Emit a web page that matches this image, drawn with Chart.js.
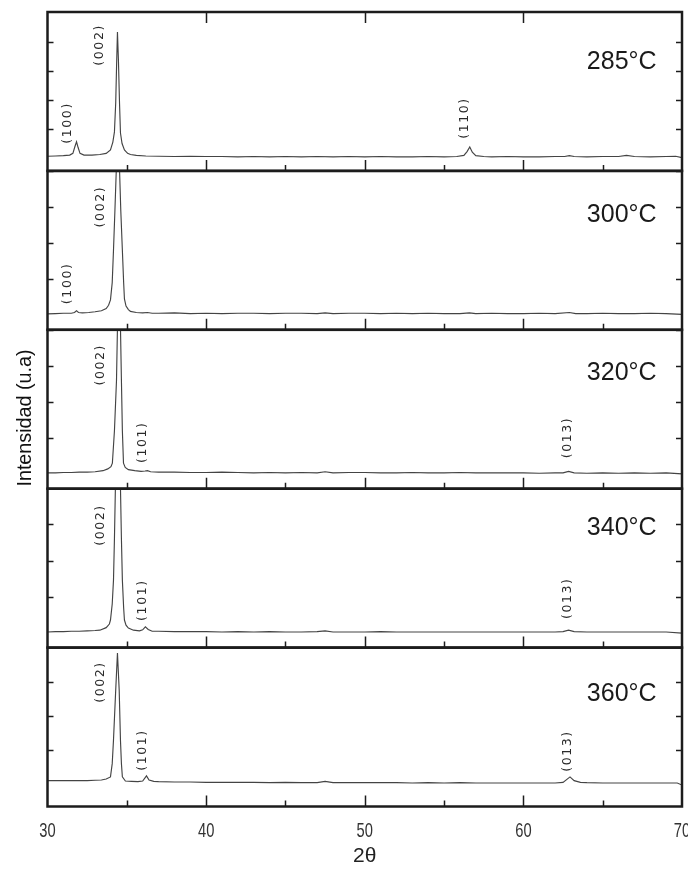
<!DOCTYPE html>
<html>
<head>
<meta charset="utf-8">
<title>DRX - temperatura de depósito</title>
<script src="https://cdn.jsdelivr.net/npm/chart.js@4.4.1/dist/chart.umd.min.js"></script>
<style>
  html, body { margin: 0; padding: 0; background: #fff; }
  canvas { display: block; }
</style>
</head>
<body>
<canvas id="xrdChart" width="688" height="874"></canvas>

<script>
// sample temperatures, top panel first
const temps = ['285°C', '300°C', '320°C', '340°C', '360°C'];

// 2θ (deg) and intensity (a.u.) for each film
const angle285 = [30, 30.5, 31, 31.4, 31.6, 31.72, 31.83, 31.93, 32.05, 32.3, 32.8, 33.3, 33.7, 33.97, 34.12, 34.22, 34.3, 34.36, 34.41, 34.47, 34.54, 34.6, 34.7, 34.85, 35.05, 35.23, 35.6, 36.2, 37, 38, 39, 40, 41, 42, 43, 44, 45, 46, 47, 48, 49, 50, 51, 52, 53, 54, 55, 55.8, 56.25, 56.45, 56.62, 56.78, 57, 57.5, 58, 59, 60, 61, 62, 62.6, 62.9, 63.2, 64, 65, 66, 66.5, 67, 68, 69, 69.6, 70];
const int285 = [0.06, 0.07, 0.08, 0.1, 0.16, 0.38, 0.56, 0.36, 0.16, 0.1, 0.1, 0.12, 0.16, 0.28, 0.55, 0.9, 1.9, 3.3, 4.34, 3.4, 1.9, 0.86, 0.5, 0.28, 0.16, 0.12, 0.09, 0.07, 0.06, 0.05, 0.06, 0.05, 0.05, 0.04, 0.05, 0.04, 0.05, 0.04, 0.05, 0.04, 0.05, 0.04, 0.05, 0.04, 0.04, 0.05, 0.04, 0.05, 0.09, 0.22, 0.38, 0.2, 0.08, 0.05, 0.04, 0.05, 0.04, 0.04, 0.05, 0.05, 0.08, 0.05, 0.04, 0.05, 0.05, 0.09, 0.05, 0.04, 0.05, 0.06, 0.01];

const angle300 = [30, 30.5, 31, 31.5, 31.7, 31.83, 31.95, 32.2, 32.6, 33, 33.4, 33.7, 33.85, 33.97, 34.08, 34.16, 34.25, 34.35, 34.45, 34.53, 34.62, 34.72, 34.8, 34.85, 34.95, 35.1, 35.23, 35.6, 36, 36.3, 36.6, 37, 38, 39, 40, 41, 42, 43, 44, 45, 46, 47, 47.5, 48, 49, 50, 51, 52, 53, 54, 55, 56, 56.6, 57, 58, 59, 60, 61, 62, 62.9, 63.3, 64, 65, 66, 67, 68, 69, 70];
const int300 = [0.03, 0.04, 0.05, 0.05, 0.07, 0.12, 0.07, 0.06, 0.07, 0.09, 0.12, 0.18, 0.27, 0.42, 0.9, 1.8, 2.9, 4.2, 5.6, 4.2, 2.9, 1.8, 0.9, 0.45, 0.25, 0.15, 0.1, 0.07, 0.06, 0.07, 0.05, 0.05, 0.06, 0.04, 0.05, 0.04, 0.05, 0.05, 0.04, 0.05, 0.05, 0.04, 0.06, 0.04, 0.05, 0.05, 0.04, 0.05, 0.04, 0.05, 0.04, 0.04, 0.06, 0.04, 0.05, 0.04, 0.04, 0.05, 0.04, 0.07, 0.04, 0.04, 0.05, 0.04, 0.04, 0.05, 0.04, 0.02];

const angle320 = [30, 30.5, 31, 31.5, 32, 32.5, 33, 33.5, 33.8, 34, 34.09, 34.22, 34.35, 34.41, 34.5, 34.6, 34.66, 34.72, 34.79, 34.9, 35.1, 35.5, 35.9, 36.15, 36.3, 36.5, 37, 38, 39, 40, 41, 42, 43, 44, 45, 46, 47, 47.5, 48, 49, 50, 51, 52, 53, 54, 55, 56, 57, 58, 59, 60, 61, 62, 62.5, 62.85, 63.2, 64, 65, 66, 67, 68, 69, 70];
const int320 = [0.03, 0.03, 0.04, 0.04, 0.05, 0.05, 0.06, 0.09, 0.14, 0.2, 0.3, 1.2, 2.6, 4.06, 6.0, 4.06, 2.6, 1.2, 0.3, 0.18, 0.12, 0.09, 0.07, 0.08, 0.09, 0.06, 0.05, 0.05, 0.04, 0.04, 0.05, 0.04, 0.03, 0.04, 0.03, 0.04, 0.03, 0.06, 0.03, 0.04, 0.04, 0.03, 0.03, 0.04, 0.03, 0.03, 0.04, 0.03, 0.03, 0.03, 0.03, 0.02, 0.03, 0.03, 0.07, 0.03, 0.02, 0.03, 0.02, 0.03, 0.02, 0.03, 0.0];

const angle340 = [30, 30.5, 31, 31.5, 32, 32.5, 33, 33.3, 33.7, 33.9, 33.97, 34.08, 34.16, 34.22, 34.28, 34.44, 34.6, 34.66, 34.72, 34.8, 34.85, 34.95, 35.1, 35.42, 35.8, 36, 36.17, 36.35, 36.6, 37, 38, 39, 40, 41, 42, 43, 44, 45, 46, 47, 47.5, 48, 49, 50, 51, 52, 53, 54, 55, 56, 57, 58, 59, 60, 61, 62, 62.5, 62.85, 63.2, 64, 65, 66, 67, 68, 69, 70];
const int340 = [0.03, 0.04, 0.04, 0.05, 0.05, 0.06, 0.07, 0.08, 0.15, 0.25, 0.36, 0.8, 1.46, 2.6, 4.0, 6.0, 4.0, 2.6, 1.46, 0.7, 0.36, 0.22, 0.14, 0.08, 0.06, 0.09, 0.17, 0.1, 0.05, 0.05, 0.04, 0.04, 0.04, 0.03, 0.04, 0.03, 0.04, 0.03, 0.03, 0.04, 0.06, 0.03, 0.03, 0.03, 0.04, 0.03, 0.03, 0.03, 0.03, 0.03, 0.03, 0.03, 0.03, 0.03, 0.03, 0.03, 0.04, 0.08, 0.04, 0.03, 0.03, 0.03, 0.03, 0.03, 0.03, 0.0];

const angle360 = [30, 30.5, 31, 31.5, 32, 32.5, 33, 33.4, 33.7, 33.97, 34.08, 34.16, 34.3, 34.41, 34.52, 34.6, 34.66, 34.72, 34.91, 35.3, 35.7, 36, 36.24, 36.4, 36.7, 37, 38, 39, 40, 41, 42, 43, 44, 45, 46, 47, 47.5, 48, 49, 50, 51, 52, 53, 54, 55, 56, 57, 58, 59, 60, 61, 62, 62.5, 62.94, 63.2, 63.6, 64, 65, 66, 67, 68, 69, 69.7, 70];
const int360 = [0.1, 0.1, 0.1, 0.1, 0.1, 0.1, 0.11, 0.12, 0.15, 0.21, 0.6, 1.29, 2.76, 3.85, 2.76, 1.29, 0.6, 0.21, 0.09, 0.08, 0.07, 0.09, 0.24, 0.12, 0.08, 0.07, 0.06, 0.06, 0.05, 0.05, 0.05, 0.05, 0.04, 0.05, 0.04, 0.04, 0.08, 0.04, 0.04, 0.04, 0.04, 0.04, 0.03, 0.04, 0.03, 0.04, 0.03, 0.03, 0.03, 0.03, 0.03, 0.03, 0.05, 0.21, 0.1, 0.05, 0.04, 0.03, 0.03, 0.03, 0.03, 0.03, 0.03, -0.03];

const angles = [angle285, angle300, angle320, angle340, angle360];
const intensities = [int285, int300, int320, int340, int360];

// Miller indices written beside the reflections: [label, 2θ, intensity]
const peaks285 = [['(100)', 31.26, 1.21], ['(002)', 33.28, 3.9], ['(110)', 56.33, 1.38]];
const peaks300 = [['(100)', 31.26, 0.88], ['(002)', 33.34, 3.01]];
const peaks320 = [['(002)', 33.34, 3.03], ['(101)', 35.98, 0.88], ['(013)', 62.82, 1.01]];
const peaks340 = [['(002)', 33.34, 2.98], ['(101)', 35.98, 0.91], ['(013)', 62.82, 0.96]];
const peaks360 = [['(002)', 33.34, 3.0], ['(101)', 35.98, 1.0], ['(013)', 62.82, 0.97]];
const peakTags = [peaks285, peaks300, peaks320, peaks340, peaks360];

// x axis
const xMin = 30, xMax = 70, xStep = 5;

// per-panel vertical ranges and where the temperature sits
const panels = [
  { id: 'p0', min: -0.445, max: 5.034, tagAt: 3.3 },
  { id: 'p1', min: -0.41, max: 4.0, tagAt: 2.78 },
  { id: 'p2', min: -0.41, max: 4.0, tagAt: 2.81 },
  { id: 'p3', min: -0.40, max: 3.98, tagAt: 2.9 },
  { id: 'p4', min: -0.66, max: 4.01, tagAt: 2.63 }
];

const SANS = "'Liberation Sans', Arial, sans-serif";
const INK = '#1c1c1c';

const datasets = panels.map((p, i) => ({
  label: temps[i],
  data: angles[i].map((a, k) => ({ x: a, y: intensities[i][k] })),
  yAxisID: p.id,
  borderColor: '#444',
  borderWidth: 1.15,
  pointRadius: 0,
  tension: 0,
  fill: false
}));

const scales = {
  x: {
    type: 'linear',
    min: xMin,
    max: xMax,
    grid: { display: false },
    border: { display: false },
    ticks: { stepSize: xStep, autoSkip: false, display: false },
    title: {
      display: true,
      text: '2θ',
      color: '#222',
      font: { family: SANS, size: 21 },
      padding: { top: 0, bottom: 5 }
    },
    afterFit: s => {
      s.height = 67.5;
      s.paddingLeft = 0;
      s.paddingRight = 0;
    }
  }
};

panels.forEach((p, i) => {
  scales[p.id] = {
    type: 'linear',
    position: 'left',
    stack: 'xrd',
    stackWeight: 1,
    weight: panels.length - i,
    min: p.min,
    max: p.max,
    grid: { display: false },
    border: { display: false },
    ticks: { display: false, stepSize: 1 },
    afterFit: s => { s.width = 0; }
  };
});

// squeezed text, the figure uses a condensed face
function narrowText(ctx, text, x, y, sx) {
  ctx.save();
  ctx.translate(x, y);
  ctx.scale(sx, 1);
  ctx.fillText(text, 0, 0);
  ctx.restore();
}

// frames, inward ticks and the text that lives inside the panels
const panelDecor = {
  id: 'panelDecor',
  beforeDatasetDraw(chart, args) {
    const ys = chart.scales[args.meta.yAxisID];
    const a = chart.chartArea;
    const ctx = chart.ctx;
    ctx.save();
    ctx.beginPath();
    ctx.rect(a.left, ys.top, a.right - a.left, ys.bottom - ys.top);
    ctx.clip();
  },
  afterDatasetDraw(chart) {
    chart.ctx.restore();
  },
  afterDraw(chart) {
    const { ctx, chartArea: a, scales: sc } = chart;
    const xs = sc.x;
    ctx.save();
    ctx.strokeStyle = INK;
    ctx.fillStyle = INK;

    panels.forEach((p, i) => {
      const ys = sc[p.id];

      // intensity ticks, inside on both sides
      ctx.lineWidth = 1.5;
      ctx.beginPath();
      ys.ticks.forEach(t => {
        if (!Number.isInteger(t.value)) return;
        const py = Math.round(ys.getPixelForValue(t.value)) + 0.5;
        ctx.moveTo(a.left, py); ctx.lineTo(a.left + 6, py);
        ctx.moveTo(a.right, py); ctx.lineTo(a.right - 6, py);
      });
      ctx.stroke();

      // 2θ ticks rising from the panel floor
      ctx.beginPath();
      xs.ticks.forEach(t => {
        if (t.value <= xMin || t.value >= xMax) return;
        const px = Math.round(xs.getPixelForValue(t.value)) + 0.5;
        const len = t.value % 10 === 0 ? 11 : 6;
        ctx.moveTo(px, ys.bottom); ctx.lineTo(px, ys.bottom - len);
        if (i === 0 && t.value % 10 === 0) {
          ctx.moveTo(px, ys.top); ctx.lineTo(px, ys.top + 11);
        }
      });
      ctx.stroke();

      // panel frame
      ctx.lineWidth = 2.5;
      ctx.strokeRect(a.left, ys.top, a.right - a.left, ys.bottom - ys.top);

      // temperature
      ctx.font = '25px ' + SANS;
      ctx.textAlign = 'right';
      ctx.textBaseline = 'middle';
      ctx.fillStyle = '#1a1a1a';
      ctx.fillText(temps[i], xs.getPixelForValue(68.4), ys.getPixelForValue(p.tagAt));

      // reflection labels, set vertically
      ctx.fillStyle = '#2a2a2a';
      ctx.font = '500 12.5px "DejaVu Sans", sans-serif';
      ctx.textAlign = 'center';
      ctx.letterSpacing = '1.6px';
      peakTags[i].forEach(([hkl, tt, val]) => {
        ctx.save();
        ctx.translate(xs.getPixelForValue(tt), ys.getPixelForValue(val));
        ctx.rotate(-Math.PI / 2);
        ctx.fillText(hkl, 0, 0);
        ctx.restore();
      });
      ctx.letterSpacing = '0px';
      ctx.fillStyle = INK;
    });

    // 2θ tick labels under the bottom panel
    ctx.font = '21px ' + SANS;
    ctx.fillStyle = '#333';
    ctx.textAlign = 'center';
    ctx.textBaseline = 'alphabetic';
    xs.ticks.forEach(t => {
      if (t.value % 10 !== 0) return;
      narrowText(ctx, String(t.value), xs.getPixelForValue(t.value), xs.top + 30, 0.7);
    });

    // shared intensity title
    ctx.save();
    ctx.translate(25, 418);
    ctx.rotate(-Math.PI / 2);
    ctx.scale(0.94, 1);
    ctx.font = '21px ' + SANS;
    ctx.textAlign = 'center';
    ctx.textBaseline = 'middle';
    ctx.fillStyle = '#111';
    ctx.fillText('Intensidad (u.a)', 0, 0);
    ctx.restore();

    ctx.restore();
  }
};

new Chart(document.getElementById('xrdChart').getContext('2d'), {
  type: 'line',
  data: { datasets: datasets },
  options: {
    responsive: false,
    animation: false,
    devicePixelRatio: 1,
    layout: { padding: { left: 47.5, right: 6, top: 12, bottom: 0 } },
    plugins: { legend: { display: false }, tooltip: { enabled: false } },
    scales: scales
  },
  plugins: [panelDecor]
});
</script>
</body>
</html>
